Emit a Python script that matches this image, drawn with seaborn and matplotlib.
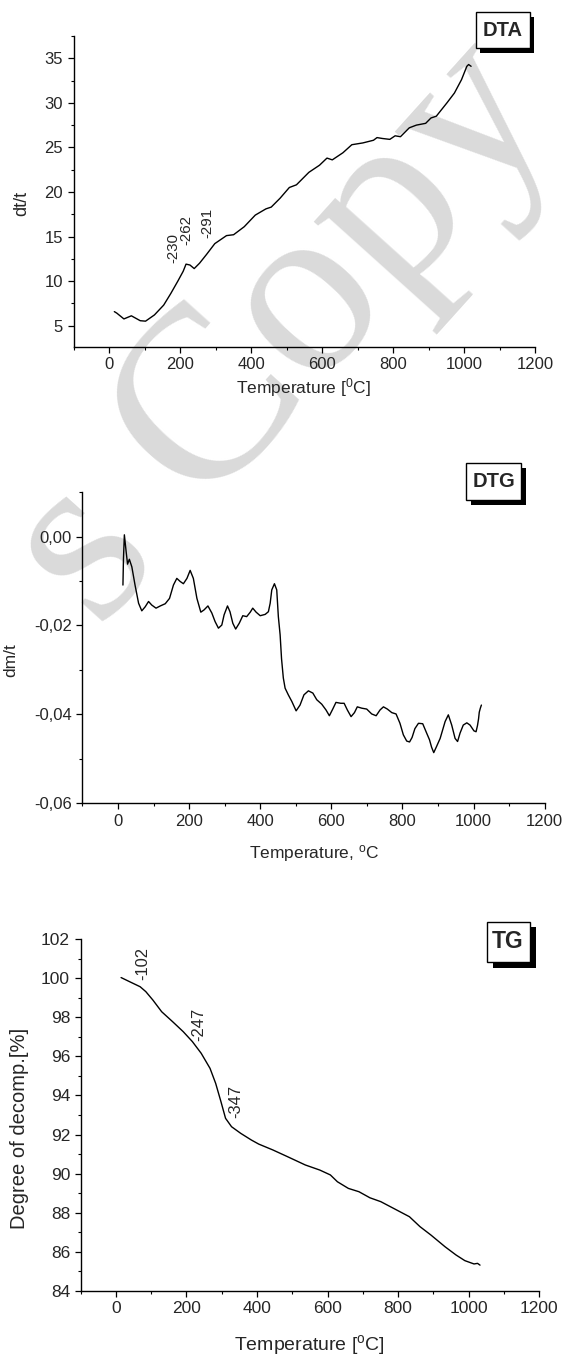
import numpy as np
import pandas as pd
import matplotlib
matplotlib.use('Agg')
import matplotlib.pyplot as plt
import seaborn as sns
from matplotlib.patches import Rectangle
from matplotlib.ticker import MultipleLocator, FuncFormatter

# ---------------- data ----------------
dta_temp = [15, 22, 42, 63, 88, 103, 128, 154, 174, 194, 209, 217, 228, 240, 255, 275,
            298, 331, 351, 381, 412, 442, 457, 482, 508, 528, 563, 593, 614, 629, 659,
            684, 715, 745, 755, 770, 791, 806, 821, 846, 866, 892, 907, 922, 932, 952,
            973, 993, 1008, 1013, 1020]
dta_val = [6.57, 6.4, 5.75, 6.1, 5.55, 5.5, 6.2, 7.3, 8.6, 10.0, 11.1, 11.9, 11.8, 11.4,
           12.0, 13.0, 14.2, 15.1, 15.2, 16.1, 17.4, 18.1, 18.3, 19.3, 20.5, 20.8, 22.2,
           23.0, 23.8, 23.6, 24.4, 25.3, 25.5, 25.8, 26.1, 26.0, 25.9, 26.3, 26.2, 27.2,
           27.5, 27.7, 28.3, 28.5, 29.0, 30.0, 31.1, 32.6, 34.1, 34.3, 34.1]
dta_peaks = ["-230", "-262", "-291"]
dta_peak_x = [181, 217, 277]
dta_peak_y = [12.0, 14.05, 14.8]

dtg_temp = [14, 15.5, 18, 23, 27, 32, 39, 48, 58, 67, 76.5, 86, 95, 107, 119, 133, 145,
            156, 165.5, 175, 184, 194, 203, 212, 222, 233, 242, 253, 264, 273, 282.5,
            292, 298.5, 308, 315, 323, 331, 341, 351, 362, 372, 379, 388.5, 400, 414,
            423, 428, 432.5, 440, 446.5, 451, 456, 460, 465, 470, 479, 489, 501, 512,
            523, 535.5, 548, 559, 573, 585, 594.5, 604, 613, 626.5, 636, 645, 655.5,
            665, 673, 685.5, 699.5, 713.5, 726, 737, 746.5, 757.5, 770, 782, 793, 802.5,
            812, 820, 827, 835, 845, 857, 868, 876, 882, 888, 896, 906, 920, 929, 938.5,
            948, 955, 962, 971, 981, 990, 1001, 1007, 1011, 1014, 1016, 1019, 1022]
dtg_val = [-0.0109, -0.0049, 0.0004, -0.0034, -0.0062, -0.0051, -0.0068, -0.0109,
           -0.0150, -0.0167, -0.0158, -0.0146, -0.0154, -0.0161, -0.0156, -0.0151,
           -0.0139, -0.0109, -0.0094, -0.0101, -0.0106, -0.0094, -0.0076, -0.0094,
           -0.0139, -0.0170, -0.0165, -0.0156, -0.0172, -0.0191, -0.0206, -0.0199,
           -0.0176, -0.0156, -0.0169, -0.0195, -0.0208, -0.0195, -0.0178, -0.0180,
           -0.0170, -0.0161, -0.0170, -0.0178, -0.0175, -0.0169, -0.0150, -0.0120,
           -0.0106, -0.0120, -0.0180, -0.0221, -0.0275, -0.0318, -0.0341, -0.0356,
           -0.0371, -0.0392, -0.0379, -0.0356, -0.0347, -0.0352, -0.0367, -0.0377,
           -0.0390, -0.0403, -0.0388, -0.0373, -0.0375, -0.0375, -0.0390, -0.0405,
           -0.0396, -0.0383, -0.0386, -0.0388, -0.0399, -0.0403, -0.0390, -0.0383,
           -0.0388, -0.0396, -0.0399, -0.0420, -0.0446, -0.0460, -0.0462, -0.0452,
           -0.0432, -0.0420, -0.0421, -0.0442, -0.0457, -0.0474, -0.0486, -0.0472,
           -0.0454, -0.0416, -0.0401, -0.0424, -0.0454, -0.0461, -0.0442, -0.0424,
           -0.0419, -0.0424, -0.0437, -0.0439, -0.0425, -0.0410, -0.0395, -0.0386,
           -0.0379]

tg_temp = [15, 39, 69, 85, 105, 130, 161, 191, 217, 242, 267, 283, 298, 311, 328, 354,
           384, 405, 445, 486, 537, 578, 608, 628, 659, 689, 720, 751, 791, 832, 862,
           893, 933, 964, 989, 1015, 1025, 1032]
tg_val = [100.04, 99.83, 99.57, 99.32, 98.89, 98.29, 97.78, 97.27, 96.76, 96.16, 95.39,
          94.62, 93.68, 92.83, 92.40, 92.06, 91.72, 91.51, 91.21, 90.87, 90.44, 90.18,
          89.93, 89.58, 89.24, 89.07, 88.76, 88.56, 88.18, 87.79, 87.28, 86.85, 86.25,
          85.83, 85.54, 85.37, 85.40, 85.31]
tg_peaks = ["-102", "-247", "-347"]
tg_peak_x = [76, 235, 339]
tg_peak_y = [99.92, 96.8, 92.83]

x_ticks = [0, 200, 400, 600, 800, 1000, 1200]

# ---------------- style ----------------
sns.set_style('ticks')
plt.rcParams['font.family'] = ['Liberation Sans', 'DejaVu Sans']
plt.rcParams['mathtext.fontset'] = 'custom'
plt.rcParams['mathtext.rm'] = 'Liberation Sans'
plt.rcParams['mathtext.it'] = 'Liberation Sans:italic'

W, H = 563, 1357
fig = plt.figure(figsize=(W / 100, H / 100), dpi=100)
fig.patch.set_facecolor('white')

# watermark (behind everything)
wm_kw = dict(family='Liberation Serif', fontsize=178, color='#dadada',
             rotation=48, rotation_mode='anchor', va='baseline', zorder=-10)
ox, oy = 200, 508
fig.text(ox / W, 1 - oy / H, 'Copy', ha='left', **wm_kw)
th = np.deg2rad(48)
gap = 60
fig.text((ox - gap * np.cos(th)) / W, 1 - (oy + gap * np.sin(th)) / H, 's', ha='right', **wm_kw)


def add_ax(l, r, t, b):
    ax = fig.add_axes([l / W, 1 - b / H, (r - l) / W, (b - t) / H])
    ax.patch.set_alpha(0)
    for s in ['top', 'right']:
        ax.spines[s].set_visible(False)
    for s in ['left', 'bottom']:
        ax.spines[s].set_linewidth(1.0)
        ax.spines[s].set_color('black')
    ax.tick_params(which='major', direction='out', length=4, width=0.9, color='black')
    ax.tick_params(which='minor', direction='out', length=2.5, width=0.8, color='black')
    ax.set_xlim(-100, 1200)
    ax.xaxis.set_major_locator(MultipleLocator(200))
    ax.xaxis.set_minor_locator(MultipleLocator(100))
    return ax


def tag_box(x0, x1, y0, y1, dx, dy, label, size):
    fig.add_artist(Rectangle((x0 / W + dx / W, 1 - (y1 + dy) / H), (x1 - x0) / W, (y1 - y0) / H,
                             transform=fig.transFigure, facecolor='black', edgecolor='black', lw=0))
    fig.add_artist(Rectangle((x0 / W, 1 - y1 / H), (x1 - x0) / W, (y1 - y0) / H,
                             transform=fig.transFigure, facecolor='white', edgecolor='black', lw=1.0))
    fig.text((x0 + x1) / 2 / W, 1 - (y0 + y1) / 2 / H, label, ha='center', va='center',
             fontweight='bold', fontsize=size)


# ---------------- DTA ----------------
ax1 = add_ax(73.5, 535, 36, 347)
df1 = pd.DataFrame({'T': dta_temp, 'v': dta_val})
sns.lineplot(data=df1, x='T', y='v', ax=ax1, color='black', lw=1.0, estimator=None)
ax1.set_ylim(2.6, 37.5)
ax1.set_yticks([5, 10, 15, 20, 25, 30, 35])
ax1.yaxis.set_minor_locator(MultipleLocator(2.5))
ax1.set_xticks(x_ticks)
ax1.tick_params(labelsize=12)
ax1.set_xlabel(r'Temperature [$^{0}$C]', fontsize=12.5)
ax1.set_ylabel('dt/t', fontsize=13)
ax1.xaxis.label.set_va('center')
ax1.yaxis.label.set_va('center')
ax1.xaxis.set_label_coords(0.499, -0.129)
ax1.yaxis.set_label_coords(-0.113, 0.463)
for lab, px, py in zip(dta_peaks, dta_peak_x, dta_peak_y):
    ax1.text(px, py, lab, rotation=90, ha='center', va='bottom', fontsize=10.8)
tag_box(475.8, 529.6, 12, 48, 4, 5, 'DTA', 14.5)

# ---------------- DTG ----------------
ax2 = add_ax(82.4, 544.7, 491.7, 803.3)
df2 = pd.DataFrame({'T': dtg_temp, 'v': dtg_val})
sns.lineplot(data=df2, x='T', y='v', ax=ax2, color='black', lw=1.0, estimator=None)
ax2.set_ylim(-0.06, 0.0101)
ax2.set_yticks([-0.06, -0.04, -0.02, 0.0])
ax2.yaxis.set_minor_locator(MultipleLocator(0.01))
ax2.yaxis.set_major_formatter(FuncFormatter(
    lambda v, p: ('%.2f' % v).replace('.', ',').replace('-0,00', '0,00')))
ax2.set_xticks(x_ticks)
ax2.tick_params(labelsize=12)
ax2.set_xlabel(r'Temperature, $^{\mathrm{o}}$C', fontsize=12.5)
ax2.set_ylabel('dm/t', fontsize=12.5)
ax2.xaxis.label.set_va('center')
ax2.yaxis.label.set_va('center')
ax2.xaxis.set_label_coords(0.501, -0.16)
ax2.yaxis.set_label_coords(-0.154, 0.46)
tag_box(466, 521.4, 463, 500, 5, 4.5, 'DTG', 14.5)

# ---------------- TG ----------------
ax3 = add_ax(80.5, 539.3, 939.3, 1290.7)
df3 = pd.DataFrame({'T': tg_temp, 'v': tg_val})
sns.lineplot(data=df3, x='T', y='v', ax=ax3, color='black', lw=1.0, estimator=None)
ax3.set_ylim(84, 102)
ax3.set_yticks(list(range(84, 103, 2)))
ax3.yaxis.set_minor_locator(MultipleLocator(1))
ax3.set_xticks(x_ticks)
ax3.tick_params(labelsize=12.5)
ax3.set_xlabel(r'Temperature [$^{\mathrm{o}}$C]', fontsize=14)
ax3.set_ylabel('Degree of decomp.[%]', fontsize=14.5)
ax3.xaxis.label.set_va('center')
ax3.yaxis.label.set_va('center')
ax3.xaxis.set_label_coords(0.50, -0.155)
ax3.yaxis.set_label_coords(-0.132, 0.463)
for lab, px, py in zip(tg_peaks, tg_peak_x, tg_peak_y):
    ax3.text(px, py, lab, rotation=90, ha='center', va='bottom', fontsize=11.9)
tag_box(486.5, 529.6, 921.7, 962.3, 6, 5.5, 'TG', 16.5)

fig.savefig('out.png', dpi=100, facecolor='white')
